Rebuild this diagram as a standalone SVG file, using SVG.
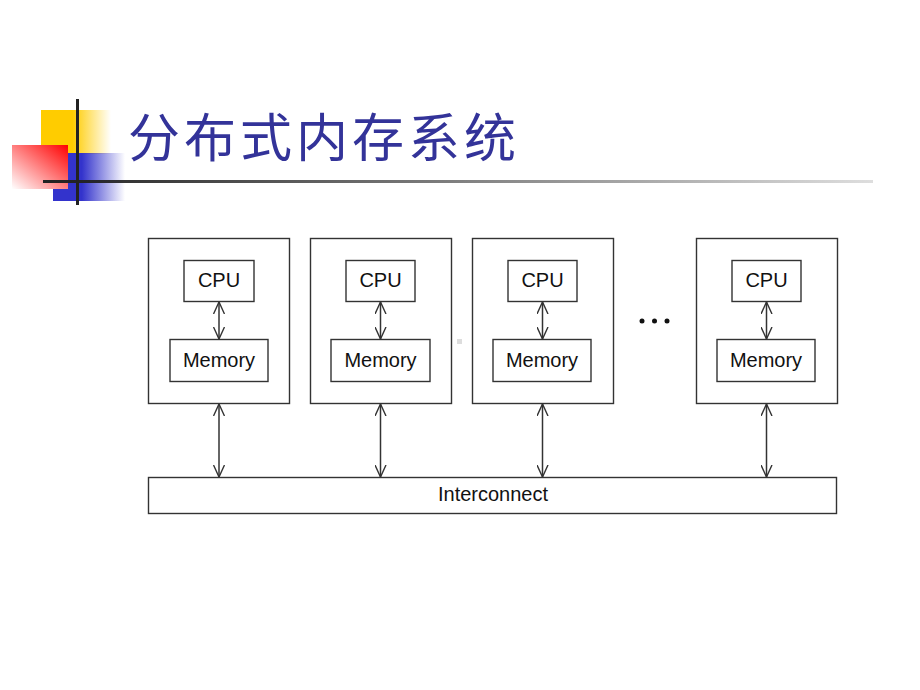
<svg xmlns="http://www.w3.org/2000/svg" width="920" height="690" viewBox="0 0 920 690">
<defs>
<linearGradient id="gy" x1="0" y1="0" x2="1" y2="0"><stop offset="0.45" stop-color="#ffcc00"/><stop offset="1" stop-color="#ffcc00" stop-opacity="0"/></linearGradient>
<linearGradient id="gb" x1="0" y1="0" x2="1" y2="0"><stop offset="0.4" stop-color="#3333cc"/><stop offset="1" stop-color="#3333cc" stop-opacity="0"/></linearGradient>
<linearGradient id="gr" x1="1" y1="0" x2="0" y2="1"><stop offset="0" stop-color="#ff0000"/><stop offset="1" stop-color="#ffffff"/></linearGradient>
<linearGradient id="gl" x1="0" y1="0" x2="1" y2="0"><stop offset="0" stop-color="#222"/><stop offset="1" stop-color="#222" stop-opacity="0.15"/></linearGradient>
<marker id="ah" viewBox="0 0 12 12" refX="12" refY="6" markerWidth="12" markerHeight="12" markerUnits="userSpaceOnUse" orient="auto-start-reverse">
<path d="M0,0.5 L12,6 L0,11.5" fill="none" stroke="#333" stroke-width="1.4"/>
</marker>
<style>
.box{fill:#fff;stroke:#333;stroke-width:1.4}
.lbl{font-family:"Liberation Sans",Arial,sans-serif;font-size:20px;fill:#111;text-anchor:middle}
.cn{stroke:#333;stroke-width:1.5;fill:none;marker-start:url(#ah);marker-end:url(#ah)}
</style>
</defs>
<rect width="920" height="690" fill="#fff"/>
<g id="title">
<rect x="41" y="110" width="70" height="44" fill="url(#gy)"/>
<rect x="53" y="153" width="72" height="48" fill="url(#gb)"/>
<rect x="12" y="145" width="56" height="44" fill="url(#gr)"/>
<rect x="76" y="99" width="3" height="106" fill="#222"/>
<rect x="43" y="180" width="830" height="3" fill="url(#gl)"/>
<text x="128" y="157" font-family="'Noto Sans CJK SC',sans-serif" font-size="52" letter-spacing="4" fill="#333399">分布式内存系统</text>
</g>
<g id="node1">
<rect class="box" x="148.5" y="238.5" width="141" height="165"/>
<rect class="box" x="184" y="260.5" width="70" height="41"/>
<text class="lbl" x="219" y="287">CPU</text>
<rect class="box" x="170" y="339.5" width="98" height="42"/>
<text class="lbl" x="219" y="367">Memory</text>
</g>
<g id="node2">
<rect class="box" x="310.5" y="238.5" width="141" height="165"/>
<rect class="box" x="346" y="260.5" width="69" height="41"/>
<text class="lbl" x="380.5" y="287">CPU</text>
<rect class="box" x="331" y="339.5" width="99" height="42"/>
<text class="lbl" x="380.5" y="367">Memory</text>
</g>
<g id="node3">
<rect class="box" x="472.5" y="238.5" width="141" height="165"/>
<rect class="box" x="508" y="260.5" width="69" height="41"/>
<text class="lbl" x="542.5" y="287">CPU</text>
<rect class="box" x="493" y="339.5" width="98" height="42"/>
<text class="lbl" x="542" y="367">Memory</text>
</g>
<g id="node4">
<rect class="box" x="696.5" y="238.5" width="141" height="165"/>
<rect class="box" x="732" y="260.5" width="69" height="41"/>
<text class="lbl" x="766.5" y="287">CPU</text>
<rect class="box" x="717" y="339.5" width="98" height="42"/>
<text class="lbl" x="766" y="367">Memory</text>
</g>
<g id="interconnect">
<rect class="box" x="148.5" y="477.5" width="688" height="36"/>
<text class="lbl" x="493" y="501">Interconnect</text>
</g>
<g id="dots" fill="#111">
<circle cx="642" cy="321" r="2.5"/>
<circle cx="654.5" cy="321" r="2.5"/>
<circle cx="667" cy="321" r="2.5"/>
</g>
<rect x="457" y="339" width="5" height="5" fill="#ddd"/>
<g id="connectors">
<line class="cn" x1="219" y1="302" x2="219" y2="339"/>
<line class="cn" x1="380.5" y1="302" x2="380.5" y2="339"/>
<line class="cn" x1="542.5" y1="302" x2="542.5" y2="339"/>
<line class="cn" x1="766.5" y1="302" x2="766.5" y2="339"/>
<line class="cn" x1="219" y1="404" x2="219" y2="477"/>
<line class="cn" x1="380.5" y1="404" x2="380.5" y2="477"/>
<line class="cn" x1="542.5" y1="404" x2="542.5" y2="477"/>
<line class="cn" x1="766.5" y1="404" x2="766.5" y2="477"/>
</g>
</svg>
